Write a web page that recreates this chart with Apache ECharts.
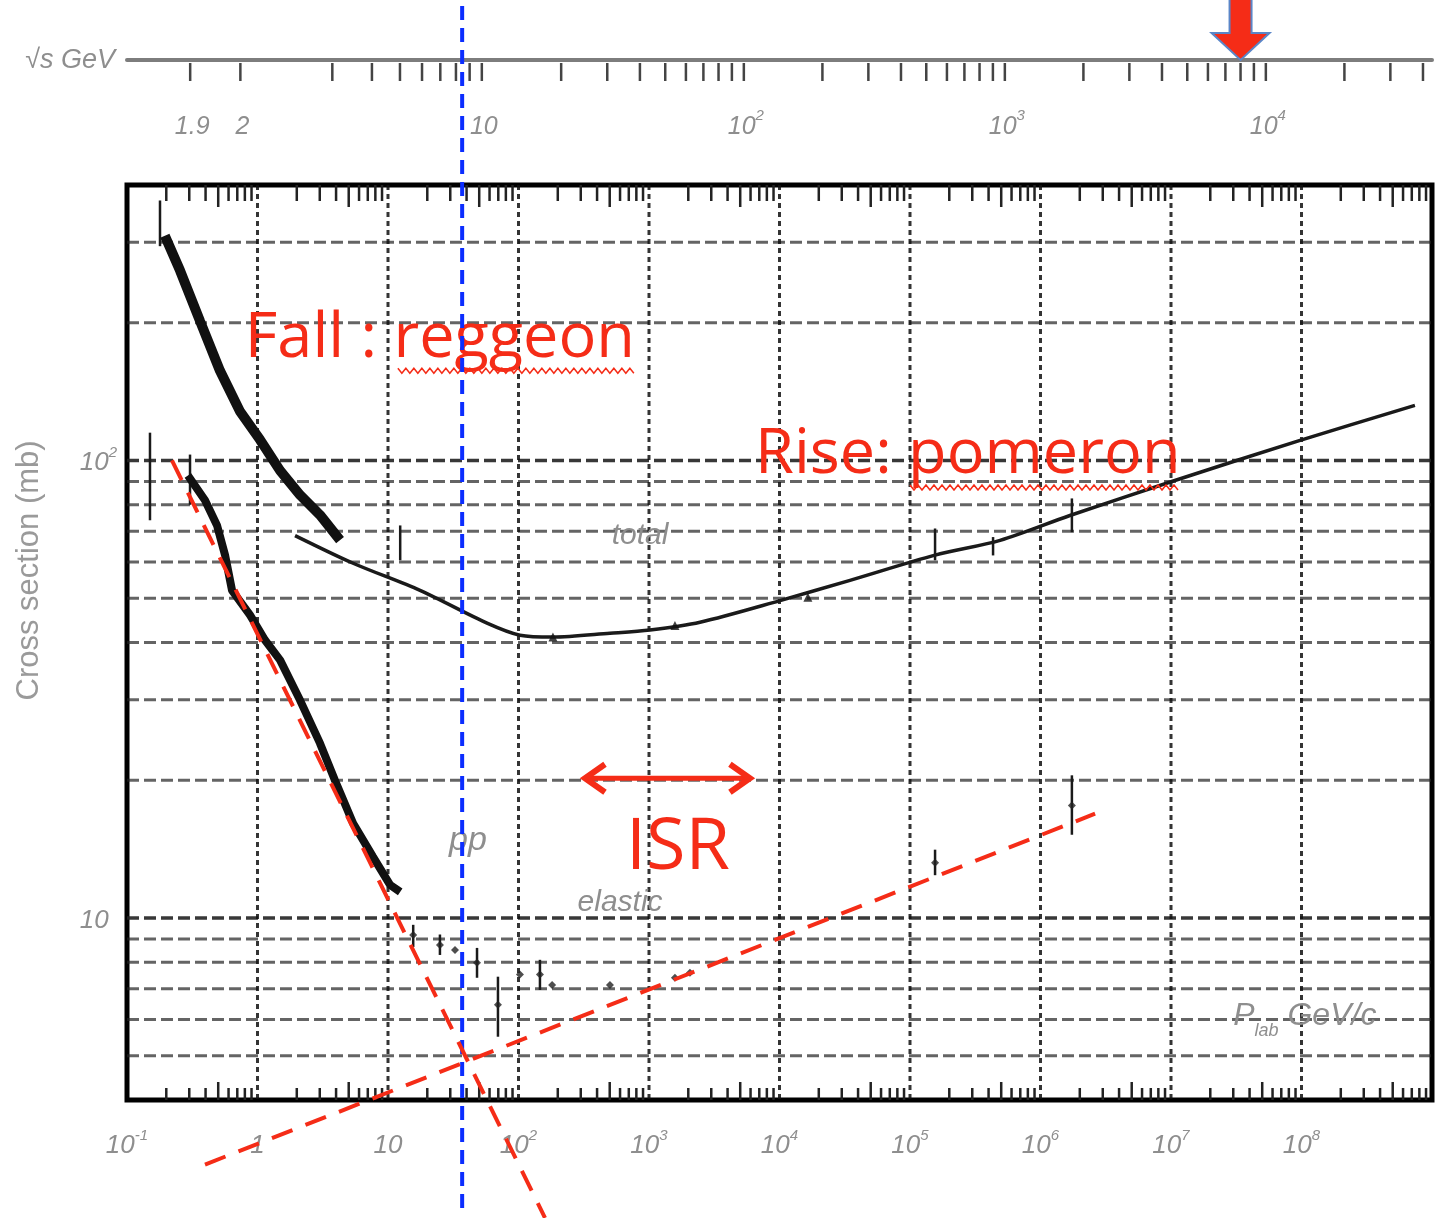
<!DOCTYPE html>
<html>
<head>
<meta charset="utf-8">
<script src="https://cdn.jsdelivr.net/npm/echarts@6/dist/echarts.min.js"></script>
<style>html,body{margin:0;background:#fff}#chart{width:1437px;height:1218px}</style>
</head>
<body>
<div id="chart"></div>
<script>
// pp cross section (mb) vs lab momentum (GeV/c)
var totalFall = [[0.195,310],[0.255,260],[0.362,202],[0.516,157],[0.734,128],[1.045,111],[1.49,95],[2.12,84],[3.01,76],[4.29,67]];
var totalCurve = [[1.94,68.5],[5.4,59.6],[17.6,52],[57.4,44.1],[102.6,41.5],[183.6,41.1],[502,41.9],[1018,42.6],[2460,44.3],[10100,49.4],[34700,54.7],[155600,62.1],[490000,66.9],[1.68e6,75.8],[1.07e7,90.4],[9.75e7,110.6],[7.4e8,131.9]];
var totalPts = [[183.6,41.1],[1580,43.6],[16500,50.2]];
var elasticFall = [[0.293,92.7],[0.396,81.8],[0.49,72.1],[0.564,62.1],[0.638,52],[0.877,45.9],[1.14,40.5],[1.49,36.6],[2.12,29.9],[3.01,24.1],[3.92,20],[5.4,16.1],[7.68,13.6],[10.4,11.8],[12.4,11.4]];
var elasticPts = [[15.6,9.18],[25,8.73],[32.6,8.51],[48.1,7.98],[69.6,6.46],[102.6,7.52],[146,7.52],[181,7.14],[502,7.14],[1580,7.4],[2060,7.59],[155600,13.2],[1.74e6,17.6]];
// [p, sigma, low, high]
var errBars = [[0.179,318,294,370],[0.15,95,74,115],[0.304,92,80,103],[12.4,66.8,60.5,72.1],[15.6,9.18,8.64,9.66],[25,8.73,8.3,9.2],[48.1,7.98,7.4,8.6],[69.6,6.46,5.5,7.44],[146,7.52,6.96,8.1],[155600,62.1,60.5,71],[433000,65,62,68],[1.74e6,76,69.7,82.6],[155600,13.2,12.4,14.1],[1.74e6,17.6,15.2,20.5]];

// axes and grid lines
var xDecades = [0.1,1,10,1e2,1e3,1e4,1e5,1e6,1e7,1e8,1e9];
var yGrid = [5,6,7,8,9,10,20,30,40,50,60,70,80,90,100,200,300];
var minorMult = [2,3,4,5,6,7,8,9];
var sqrtsTicks = [1.9,2,3,4,5,6,7,8,9,10,20,30,40,50,60,70,80,90,100,200,300,400,500,600,700,800,900,1000,2000,3000,4000,5000,6000,7000,8000,9000,10000,20000,30000,40000];
var sqrtsLabels = [[1.9,'1.9'],[2,'2'],[10,'10'],[100,'10',2],[1000,'10',3],[10000,'10',4]];
var lhcSqrts = 8000;

// annotations: [text, p, sigma]
var redNotes = [['Fall : reggeon',0.80,184.5],['Rise: pomeron',6490,102.5]];
var isrNote = ['ISR',1667,14.2];
var isrArrow = [312,6150,20.2];
var wavy = [[11.9,782,157],[1e5,1.17e7,87.3]];
var grayNotes = [['total',853,68.5,30],['pp',41,14.8,34],['elastic',600,10.8,30]];
var plabNote = [1.06e8,5.99];
var yTitle = ['Cross section (mb)',0.018,57.5];
var blueLine = [[37,985],[37,2.3]];
var redLineA = [[0.221,100],[159.6,2.21]];
var redLineB = [[0.396,2.89],[2.62e6,16.9]];

var M_P = 0.938;
function pLab(rs) {
  var s = rs * rs;
  var e = (s - 2 * M_P * M_P) / (2 * M_P);
  return Math.sqrt(e * e - M_P * M_P);
}

var GRAY = '#8e8e8e';
var RED = '#f52c17';
var FONT = 'Liberation Sans';
var rich = {
  b: {fontSize: 26, fontStyle: 'italic', color: GRAY, fontFamily: FONT, verticalAlign: 'bottom', lineHeight: 31},
  s: {fontSize: 15, fontStyle: 'italic', color: GRAY, fontFamily: FONT, verticalAlign: 'top', lineHeight: 31}
};
// same look for zrender text in custom series (uses fill)
var richZr = {
  b: {fontSize: 25, fontStyle: 'italic', fill: GRAY, fontFamily: FONT, verticalAlign: 'bottom', lineHeight: 31},
  s: {fontSize: 15, fontStyle: 'italic', fill: GRAY, fontFamily: FONT, verticalAlign: 'top', lineHeight: 31}
};

var xMinor = [];
xDecades.slice(0, -1).forEach(function (d) {
  minorMult.forEach(function (k) { xMinor.push([d * k, 10]); });
});

var chart = echarts.init(document.getElementById('chart'));
chart.setOption({
  animation: false,
  backgroundColor: '#fff',
  grid: [
    {left: 127, right: 5, top: 185, bottom: 118, show: true, borderWidth: 5, borderColor: '#000', backgroundColor: 'transparent'},
    {left: 127, right: 5, top: 60, height: 60, show: false}
  ],
  xAxis: [{
    type: 'log', gridIndex: 0, min: 0.1, max: 1e9, splitNumber: 10,
    axisLine: {show: false}, axisTick: {show: false}, splitLine: {show: false},
    axisLabel: {
      margin: 28, showMinLabel: true, showMaxLabel: true, rich: rich,
      formatter: function (v) {
        var e = Math.round(Math.log10(v));
        if (e === 9) return '';
        if (e === 0) return '{b|1}';
        if (e === 1) return '{b|10}';
        return '{b|10}{s|' + e + '}';
      }
    }
  }, {
    type: 'log', gridIndex: 1, min: 0.1, max: 1e9, position: 'top',
    axisLine: {onZero: false, lineStyle: {color: '#7d7d7d', width: 4}},
    axisTick: {show: false}, axisLabel: {show: false}, splitLine: {show: false},
    name: '√s GeV', nameLocation: 'start', nameGap: 12,
    nameTextStyle: {fontSize: 27, fontStyle: 'italic', color: GRAY, fontFamily: FONT}
  }],
  yAxis: [{
    type: 'log', gridIndex: 0, min: 4, max: 400,
    axisLine: {show: false}, axisTick: {show: false}, splitLine: {show: false},
    axisLabel: {
      margin: 10, rich: rich,
      formatter: function (v) {
        if (Math.abs(v - 10) < 0.01) return '{b|10}{s|  }';
        if (Math.abs(v - 100) < 0.1) return '{b|10}{s|2}';
        return '';
      }
    }
  }, {
    type: 'value', gridIndex: 1, min: 0, max: 1, show: false
  }],
  series: [
    {
      type: 'custom', name: 'hgrid', xAxisIndex: 0, yAxisIndex: 0, z: 1, silent: true,
      data: yGrid.map(function (v) { return [1, v]; }),
      renderItem: function (params, api) {
        var v = api.value(1);
        var a = api.coord([0.1, v]), b = api.coord([1e9, v]);
        var major = (v === 10 || v === 100);
        return {type: 'line', shape: {x1: a[0], y1: a[1], x2: b[0], y2: b[1]},
          style: {stroke: '#222', opacity: major ? 0.9 : 0.7, lineWidth: major ? 3.5 : 3, lineDash: [12, 5]}};
      }
    },
    {
      type: 'custom', name: 'vgrid', xAxisIndex: 0, yAxisIndex: 0, z: 1, silent: true,
      data: xDecades.slice(1, -1).map(function (v) { return [v, 10]; }),
      renderItem: function (params, api) {
        var v = api.value(0);
        var a = api.coord([v, 400]), b = api.coord([v, 4]);
        return {type: 'line', shape: {x1: a[0], y1: a[1], x2: b[0], y2: b[1]},
          style: {stroke: '#111', opacity: 0.85, lineWidth: 3, lineDash: [5, 4]}};
      }
    },
    {
      type: 'custom', name: 'frameTicks', xAxisIndex: 0, yAxisIndex: 0, z: 2, silent: true,
      data: xMinor,
      renderItem: function (params, api) {
        var v = api.value(0);
        var t = api.coord([v, 400]), b = api.coord([v, 4]);
        var len = (Math.round(v / Math.pow(10, Math.floor(Math.log10(v) + 1e-9))) === 5) ? 22 : 16;
        return {type: 'group', children: [
          {type: 'line', shape: {x1: t[0], y1: t[1], x2: t[0], y2: t[1] + len}, style: {stroke: '#222', lineWidth: 2.5}},
          {type: 'line', shape: {x1: b[0], y1: b[1], x2: b[0], y2: b[1] - len + 4}, style: {stroke: '#222', lineWidth: 2.5}}
        ]};
      }
    },
    {
      type: 'line', name: 'total fall', data: totalFall, z: 3, symbol: 'none',
      lineStyle: {color: '#111', width: 10}
    },
    {
      type: 'line', name: 'total', data: totalCurve, z: 3, symbol: 'none', smooth: 0.3,
      lineStyle: {color: '#1a1a1a', width: 3.5}
    },
    {
      type: 'scatter', name: 'total points', data: totalPts, z: 3, symbol: 'triangle', symbolSize: 9,
      itemStyle: {color: '#111'}
    },
    {
      type: 'line', name: 'elastic fall', data: elasticFall, z: 3, symbol: 'none',
      lineStyle: {color: '#111', width: 8}
    },
    {
      type: 'scatter', name: 'elastic points', data: elasticPts, z: 3, symbol: 'diamond', symbolSize: 8,
      itemStyle: {color: '#222'}
    },
    {
      type: 'custom', name: 'errors', xAxisIndex: 0, yAxisIndex: 0, z: 3, silent: true,
      data: errBars,
      renderItem: function (params, api) {
        var lo = api.coord([api.value(0), api.value(2)]);
        var hi = api.coord([api.value(0), api.value(3)]);
        return {type: 'line', shape: {x1: lo[0], y1: lo[1], x2: hi[0], y2: hi[1]}, style: {stroke: '#1a1a1a', lineWidth: 2.5}};
      }
    },
    {
      type: 'custom', name: 'sqrt s ticks', xAxisIndex: 1, yAxisIndex: 1, z: 3, silent: true,
      data: sqrtsTicks.map(function (v) { return [pLab(v), 1]; }),
      renderItem: function (params, api) {
        var c = api.coord([api.value(0), 1]);
        return {type: 'line', shape: {x1: c[0], y1: c[1] + 3, x2: c[0], y2: c[1] + 21}, style: {stroke: '#444', lineWidth: 2.5}};
      }
    },
    {
      type: 'custom', name: 'sqrt s labels', xAxisIndex: 1, yAxisIndex: 1, z: 3, silent: true,
      data: sqrtsLabels.map(function (l) { return [pLab(l[0]), 1]; }),
      renderItem: function (params, api) {
        var c = api.coord([api.value(0), 1]);
        var l = sqrtsLabels[params.dataIndex];
        var txt = '{b|' + l[1] + '}' + (l[2] ? '{s|' + l[2] + '}' : '');
        return {type: 'text', x: c[0] + 2, y: c[1] + 64,
          style: {text: txt, rich: richZr, align: 'center', verticalAlign: 'middle'}};
      }
    },
    {
      type: 'custom', name: 'lhc arrow', xAxisIndex: 1, yAxisIndex: 1, z: 6, silent: true,
      data: [[pLab(lhcSqrts), 1]],
      renderItem: function (params, api) {
        var c = api.coord([api.value(0), 1]);
        var x = c[0], y = c[1];
        return {type: 'polygon', shape: {points: [[x - 11, y - 70], [x + 11, y - 70], [x + 11, y - 27], [x + 29, y - 27], [x, y], [x - 29, y - 27], [x - 11, y - 27]]},
          style: {fill: RED, stroke: '#5a86c8', lineWidth: 2}};
      }
    },
    {
      type: 'custom', name: 'notes', xAxisIndex: 0, yAxisIndex: 0, z: 5, silent: true,
      data: [[1, 10]],
      renderItem: function (params, api) {
        var ch = [];
        redNotes.forEach(function (n) {
          var c = api.coord([n[1], n[2]]);
          ch.push({type: 'text', x: c[0], y: c[1], style: {text: n[0], fill: RED, fontSize: 63, fontFamily: 'Open Sans', align: 'left', verticalAlign: 'middle'}});
        });
        var ic = api.coord([isrNote[1], isrNote[2]]);
        ch.push({type: 'text', x: ic[0], y: ic[1], style: {text: isrNote[0], fill: RED, fontSize: 72, fontFamily: 'Open Sans', align: 'center', verticalAlign: 'middle'}});
        wavy.forEach(function (w) {
          var a = api.coord([w[0], w[2]]), b = api.coord([w[1], w[2]]);
          var pts = [], i = 0;
          for (var x = a[0]; x <= b[0]; x += 4, i++) pts.push([x, a[1] + (i % 2 ? 2.5 : -2.5)]);
          ch.push({type: 'polyline', shape: {points: pts}, style: {stroke: RED, lineWidth: 1.5, fill: null}});
        });
        var l = api.coord([isrArrow[0], isrArrow[2]]), r = api.coord([isrArrow[1], isrArrow[2]]);
        ch.push({type: 'line', shape: {x1: l[0] + 4, y1: l[1], x2: r[0] - 4, y2: r[1]}, style: {stroke: RED, lineWidth: 5}});
        ch.push({type: 'polyline', shape: {points: [[l[0] + 22, l[1] - 14], [l[0] + 2, l[1]], [l[0] + 22, l[1] + 14]]}, style: {stroke: RED, lineWidth: 6, fill: null}});
        ch.push({type: 'polyline', shape: {points: [[r[0] - 22, r[1] - 14], [r[0] - 2, r[1]], [r[0] - 22, r[1] + 14]]}, style: {stroke: RED, lineWidth: 6, fill: null}});
        grayNotes.forEach(function (n) {
          var c = api.coord([n[1], n[2]]);
          ch.push({type: 'text', x: c[0], y: c[1], style: {text: n[0], fill: GRAY, fontSize: n[3], fontStyle: 'italic', fontFamily: FONT, align: 'center', verticalAlign: 'middle'}});
        });
        var pc = api.coord(plabNote);
        ch.push({type: 'text', x: pc[0], y: pc[1], style: {
          text: '{p|P}{sub|lab}{p| GeV/c}', align: 'center', verticalAlign: 'middle',
          rich: {
            p: {fontSize: 32, fontStyle: 'italic', fill: GRAY, fontFamily: FONT, verticalAlign: 'top', lineHeight: 40},
            sub: {fontSize: 18, fontStyle: 'italic', fill: GRAY, fontFamily: FONT, verticalAlign: 'bottom', lineHeight: 40}
          }}});
        var yc = api.coord([yTitle[1], yTitle[2]]);
        ch.push({type: 'text', x: yc[0], y: yc[1], rotation: Math.PI / 2,
          style: {text: yTitle[0], fill: '#9a9a9a', fontSize: 31, fontFamily: FONT, align: 'center', verticalAlign: 'middle'}});
        return {type: 'group', children: ch};
      }
    },
    {
      type: 'line', name: 'blue guide', data: blueLine, z: 7, symbol: 'none', clip: false, silent: true,
      lineStyle: {color: '#0b2dff', width: 4, type: [14, 8]}
    },
    {
      type: 'line', name: 'red guide A', data: redLineA, z: 7, symbol: 'none', clip: false, silent: true,
      lineStyle: {color: RED, width: 4, type: [22, 14]}
    },
    {
      type: 'line', name: 'red guide B', data: redLineB, z: 7, symbol: 'none', clip: false, silent: true,
      lineStyle: {color: RED, width: 4, type: [22, 14]}
    }
  ]
});
</script>
</body>
</html>
